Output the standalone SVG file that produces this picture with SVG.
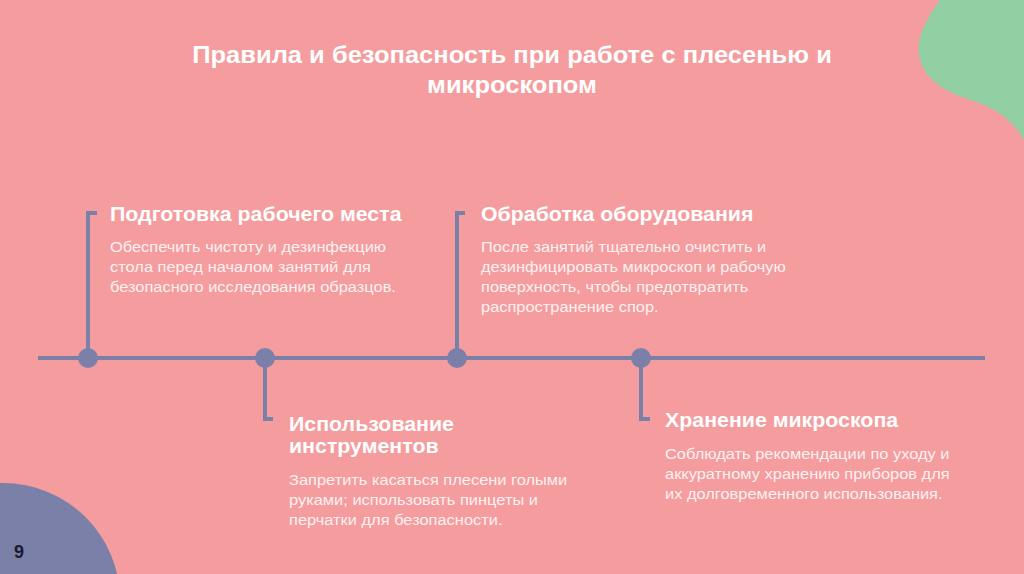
<svg xmlns="http://www.w3.org/2000/svg" width="1024" height="574" viewBox="0 0 1024 574">
<style>
.title{font-family:"Liberation Sans",Arial,sans-serif;font-weight:bold;font-size:23px;fill:#ffffff;text-anchor:middle}
.h{font-family:"Liberation Sans",Arial,sans-serif;font-weight:bold;font-size:19.5px;fill:#ffffff}
.b{font-family:"Liberation Sans",Arial,sans-serif;font-size:15px;fill:#fff1f1}
.ln{stroke:#7b80a8;stroke-width:4;fill:none}
.dot{fill:#7b80a8}
</style>
<rect width="1024" height="574" fill="#f59c9e"/>
<path d="M940,0 C925,20 916,40 919,55 C922,75 940,90 965,98 C990,106 1010,115 1024,140 L1024,0 Z" fill="#92cfa2"/>
<circle cx="3" cy="600" r="117" fill="#7b80a8"/>
<text x="14" y="558" font-family="Liberation Sans,Arial,sans-serif" font-weight="bold" font-size="18" fill="#1a1a2a">9</text>
<g transform="translate(512,0) scale(1.11,1)">
<text class="title" x="0" y="63">Правила и безопасность при работе с плесенью и</text>
<text class="title" x="0" y="93">микроскопом</text>
</g>
<g id="connectors">
<line class="ln" x1="38" y1="358" x2="985" y2="358"/>
<polyline class="ln" points="97,213 88,213 88,358"/>
<polyline class="ln" points="465,213 457,213 457,358"/>
<polyline class="ln" points="265,358 265,419 273,419"/>
<polyline class="ln" points="641,358 641,419 650,419"/>
</g>
<g id="node1">
<circle class="dot" cx="88" cy="358" r="10"/>
<g transform="translate(110,0) scale(1.095,1)">
<text class="h" x="0" y="221">Подготовка рабочего места</text>
<text class="b" x="0" y="252">Обеспечить чистоту и дезинфекцию</text>
<text class="b" x="0" y="272">стола перед началом занятий для</text>
<text class="b" x="0" y="292">безопасного исследования образцов.</text>
</g>
</g>
<g id="node2">
<circle class="dot" cx="265" cy="358" r="10"/>
<g transform="translate(289,0) scale(1.095,1)">
<text class="h" x="0" y="431">Использование</text>
<text class="h" x="0" y="453">инструментов</text>
<text class="b" x="0" y="485">Запретить касаться плесени голыми</text>
<text class="b" x="0" y="505">руками; использовать пинцеты и</text>
<text class="b" x="0" y="525">перчатки для безопасности.</text>
</g>
</g>
<g id="node3">
<circle class="dot" cx="457" cy="358" r="10"/>
<g transform="translate(481,0) scale(1.095,1)">
<text class="h" x="0" y="221">Обработка оборудования</text>
<text class="b" x="0" y="252">После занятий тщательно очистить и</text>
<text class="b" x="0" y="272">дезинфицировать микроскоп и рабочую</text>
<text class="b" x="0" y="292">поверхность, чтобы предотвратить</text>
<text class="b" x="0" y="312">распространение спор.</text>
</g>
</g>
<g id="node4">
<circle class="dot" cx="641" cy="358" r="10"/>
<g transform="translate(665,0) scale(1.095,1)">
<text class="h" x="0" y="427">Хранение микроскопа</text>
<text class="b" x="0" y="459">Соблюдать рекомендации по уходу и</text>
<text class="b" x="0" y="479">аккуратному хранению приборов для</text>
<text class="b" x="0" y="499">их долговременного использования.</text>
</g>
</g>
</svg>
